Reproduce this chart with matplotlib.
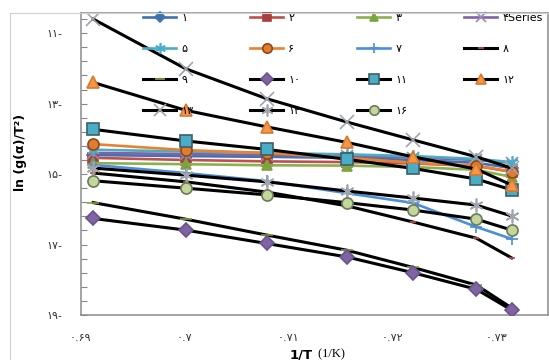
import matplotlib
matplotlib.use('Agg')
import matplotlib.pyplot as plt
from matplotlib.lines import Line2D

plt.rcParams['font.family'] = ['DejaVu Sans', 'Liberation Sans']

# 1/T values (x axis)
inv_t = [0.6912, 0.7001, 0.7079, 0.7156, 0.7220, 0.7281, 0.7315]

# ln(g(a)/T^2) for each series
s1 = [-14.46, -14.49, -14.51, -14.54, -14.60, -14.68, -14.83]
s2 = [-14.54, -14.60, -14.64, -14.66, -14.70, -14.77, -14.94]
s3 = [-14.69, -14.72, -14.75, -14.76, -14.80, -14.88, -15.08]
s4 = [-14.40, -14.43, -14.46, -14.49, -14.53, -14.60, -14.68]
s5 = [-14.31, -14.36, -14.40, -14.44, -14.49, -14.57, -14.66]
s6 = [-14.15, -14.32, -14.40, -14.54, -14.68, -14.76, -14.93]
s7 = [-14.74, -14.97, -15.20, -15.54, -15.82, -16.50, -16.84]
s8 = [-14.97, -15.22, -15.51, -15.90, -16.36, -16.82, -17.38]
s9 = [-15.81, -16.28, -16.73, -17.16, -17.65, -18.15, -18.80]
s10 = [-16.26, -16.59, -16.97, -17.35, -17.80, -18.27, -18.86]
s11 = [-13.73, -14.06, -14.30, -14.58, -14.84, -15.14, -15.45]
s12 = [-12.40, -13.19, -13.66, -14.10, -14.51, -14.86, -15.31]
s13 = [-10.60, -12.01, -12.86, -13.52, -14.03, -14.51, -14.83]
s14 = [-14.83, -15.03, -15.22, -15.48, -15.68, -15.88, -16.19]
s16 = [-15.19, -15.40, -15.59, -15.81, -16.02, -16.28, -16.59]

labels = ['۱', '۲', '۳', '۴Series', '۵', '۶', '۷', '۸',
          '۹', '۱۰', '۱۱', '۱۲', '۱۳', '۱۴', '۱۶']

y_ticks = [-19, -17, -15, -13, -11]
y_tick_labels = ['۱۹-', '۱۷-', '۱۵-', '۱۳-', '۱۱-']
x_ticks = [0.69, 0.70, 0.71, 0.72, 0.73]
x_tick_labels = ['۰.۶۹', '۰.۷', '۰.۷۱', '۰.۷۲', '۰.۷۳']

star = (6, 2, 0)
# (data, line colour, marker, face, edge, size, line width)
styles = [
	(s1, '#3F72B5', 'D', '#3F72B5', '#3F72B5', 6, 1.9),
	(s2, '#C0504D', 's', '#A8413E', '#A8413E', 7, 1.9),
	(s3, '#8DB04F', '^', '#7EA43F', '#7EA43F', 7, 1.9),
	(s4, '#8064A2', 'x', '#8064A2', '#9A86B8', 8, 1.9),
	(s5, '#4BACC6', star, '#4BACC6', '#4BACC6', 9, 1.9),
	(s6, '#E8822F', 'o', '#E07B30', '#8A4A1A', 8, 1.9),
	(s7, '#4A8FD8', '+', '#4A8FD8', '#4A8FD8', 9, 1.9),
	(s8, 'black', '_', '#C0504D', '#C0504D', 5, 2.2),
	(s9, 'black', '_', '#7EA43F', '#7EA43F', 9, 2.2),
	(s10, 'black', 'D', '#8064A2', '#6A5290', 7, 2.2),
	(s11, 'black', 's', '#4BACC6', '#3D5F6A', 8, 2.2),
	(s12, 'black', '^', '#F79646', '#D67A30', 8, 2.2),
	(s13, 'black', 'x', '#A0A4AC', '#A0A4AC', 10, 2.2),
	(s14, 'black', star, '#A0A4AC', '#A0A4AC', 10, 2.2),
	(s16, 'black', 'o', '#C3D69B', '#6B7A5A', 8, 2.2),
]

fig = plt.figure(figsize=(5.49, 3.60), dpi=100)
ax = fig.add_axes([80.7/549, 1 - 315/360, (548 - 80.7)/549, (315 - 12.7)/360])

handles = []
for i, (vals, lc, mk, fc, ec, ms, lw) in enumerate(styles):
	h, = ax.plot(inv_t, vals, color=lc, lw=lw, marker=mk, markersize=ms,
		markerfacecolor=fc, markeredgecolor=ec, markeredgewidth=1.2,
		zorder=2 + i * 0.1, label=labels[i])
	handles.append(h)

ax.set_xlim(0.69, 0.735)
ax.set_ylim(-19, -10.42)

ax.set_yticks(y_ticks)
ax.set_yticklabels(y_tick_labels, fontsize=8, color='#333333')
ax.set_yticks([-19 + 0.4 * k for k in range(22)], minor=True)
ax.tick_params(axis='y', which='both', direction='in', length=4, width=0.8,
	color='#868686', pad=13)

ax.set_xticks(x_ticks)
ax.set_xticklabels(x_tick_labels, fontsize=8, color='#333333')
ax.tick_params(axis='x', length=0, pad=13)

for sp in ax.spines.values():
	sp.set_color('#8C8C8C')
	sp.set_linewidth(1.1)

# legend fills column by column, so reorder to read row by row
order = [0, 4, 8, 12, 1, 5, 9, 13, 2, 6, 10, 14, 3, 7, 11]
leg = ax.legend(handles=[handles[k] for k in order], ncol=4, loc='upper left',
	bbox_to_anchor=(143/549, 1 - 13/360), bbox_transform=fig.transFigure,
	frameon=False, fontsize=8, handlelength=3.0, handletextpad=0.45,
	columnspacing=5.1, labelspacing=1.88, borderpad=0, borderaxespad=0,
	numpoints=1, markerscale=0.85)

# outer chart border
fig.add_artist(Line2D([10/549, 10/549], [0, 1 - 12.7/360], color='#D0D0D0', lw=0.8))
fig.add_artist(Line2D([10/549, 1], [1 - 12.7/360, 1 - 12.7/360], color='#D0D0D0', lw=0.8))

fig.text(21/549, 1 - 152/360, 'ln (g(α)/T²)', rotation=90, ha='center', va='center',
	fontsize=9, fontweight='bold')
fig.text(313/549, 1 - 348/360, '1/T', ha='right', va='top', fontsize=9.5, fontweight='bold')
fig.text(315/549, 1 - 348/360, ' (1/K)', ha='left', va='top', fontsize=9,
	family='Liberation Serif')

fig.savefig('out.png', dpi=100)
